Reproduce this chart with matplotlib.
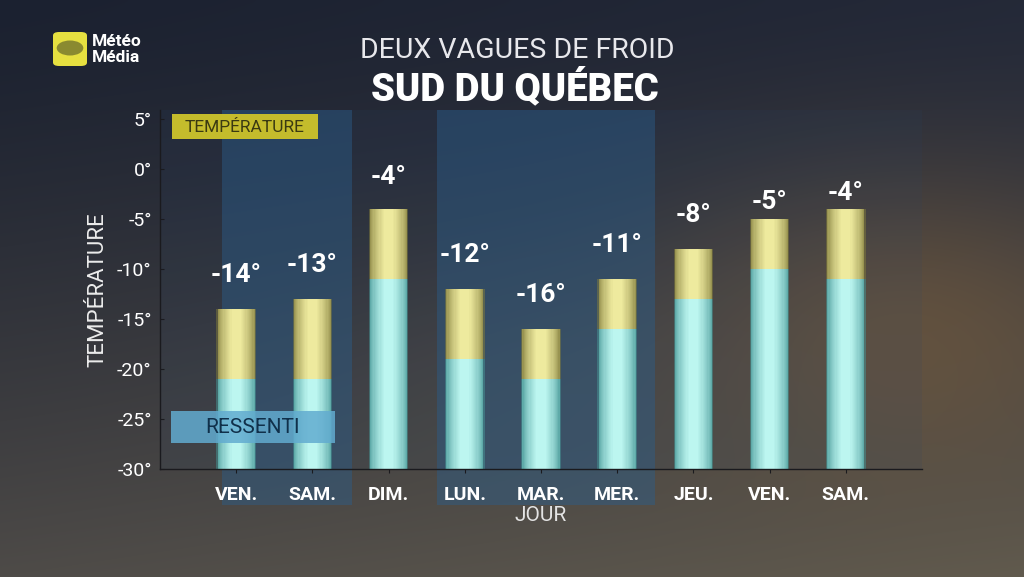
import numpy as np
import matplotlib
matplotlib.use("Agg")
import matplotlib.pyplot as plt
from matplotlib.patches import FancyBboxPatch, Rectangle, Circle

# ---------------- data ----------------
days = ["VEN.", "SAM.", "DIM.", "LUN.", "MAR.", "MER.", "JEU.", "VEN.", "SAM."]
temperature = [-14, -13, -4, -12, -16, -11, -8, -5, -4]
ressenti = [-21, -21, -11, -19, -21, -16, -13, -10, -11]
yticks = [-30, -25, -20, -15, -10, -5, 0, 5]
highlight_spans = [(-0.18, 1.52), (2.64, 5.50)]
label_offsets = [3.4, 3.4, 3.2, 3.4, 3.4, 3.4, 3.4, 1.7, 1.6]

FONT = "Roboto"

fig = plt.figure(figsize=(10.24, 5.77), dpi=100)

# ---------------- background ----------------
H, W = 577, 1024
yy, xx = np.mgrid[0:H, 0:W]
fy = yy / (H - 1)
fx = xx / (W - 1)
tl = np.array([27, 33, 48]); tr = np.array([36, 41, 56])
bl = np.array([78, 75, 72]); br = np.array([96, 90, 78])
top = tl[None, None, :] * (1 - fx[..., None]) + tr[None, None, :] * fx[..., None]
bot = bl[None, None, :] * (1 - fx[..., None]) + br[None, None, :] * fx[..., None]
w = fy[..., None] ** 1.3
img = top * (1 - w) + bot * w
g = np.exp(-(((xx - 900) / 230.0) ** 2 + ((yy - 330) / 150.0) ** 2))[..., None]
img = img * (1 - 0.55 * g) + np.array([125, 95, 60])[None, None, :] * 0.55 * g
g2 = np.exp(-(((xx - 560) / 260.0) ** 2 + ((yy - 380) / 120.0) ** 2))[..., None]
img = img * (1 - 0.25 * g2) + np.array([95, 85, 70])[None, None, :] * 0.25 * g2
img = np.clip(img / 255.0, 0, 1)
bg = fig.add_axes([0, 0, 1, 1], zorder=-10)
bg.imshow(img, aspect="auto", extent=[0, 1, 0, 1], origin="upper")
bg.set_axis_off()

# ---------------- main axes ----------------
ax = fig.add_axes([160 / 1024, 108 / 577, (922 - 160) / 1024, (469 - 110) / 577])
ax.set_facecolor((0.15, 0.28, 0.45, 0.10))
ax.set_xlim(-1, 9)
ax.set_ylim(-30, 5.9)

x = np.arange(len(days))

for a, b in highlight_spans:
    ax.axvspan(a, b, ymin=-0.10, ymax=1.0, color=(0.17, 0.37, 0.55), alpha=0.45,
               lw=0, zorder=0, clip_on=False)

# glowing stacked bars: many nested layers from edge colour to centre colour
base = -30
r_h = [r - base for r in ressenti]
t_h = [t - r for t, r in zip(temperature, ressenti)]
n_layers = 14
widths = np.linspace(0.52, 0.12, n_layers)
cy_edge, cy_mid = np.array([70, 150, 150]) / 255, np.array([188, 246, 240]) / 255
ye_edge, ye_mid = np.array([130, 125, 60]) / 255, np.array([238, 234, 158]) / 255
for k, wd in enumerate(widths):
    f = (k / (n_layers - 1)) ** 0.6
    al = 0.5 if k == 0 else 1.0
    ax.bar(x, r_h, width=wd, bottom=base, color=cy_edge * (1 - f) + cy_mid * f,
           alpha=al, lw=0, zorder=2)
    ax.bar(x, t_h, width=wd, bottom=ressenti, color=ye_edge * (1 - f) + ye_mid * f,
           alpha=al, lw=0, zorder=2)

# value labels
for xi, t, off in zip(x, temperature, label_offsets):
    ax.text(xi, t + off, f"{t}°", ha="center", va="center", color="white",
            fontsize=19, fontweight="bold", family=FONT, zorder=5)

for s in ["top", "right"]:
    ax.spines[s].set_visible(False)
for s in ["left", "bottom"]:
    ax.spines[s].set_color("#1a1a1e")
    ax.spines[s].set_linewidth(1.0)
ax.set_xticks(x)
ax.set_xticklabels(days, fontsize=14, fontweight="bold", color="white", family=FONT)
ax.set_yticks(yticks)
ax.set_yticklabels([f"{v}°" for v in yticks], fontsize=14, color="white", family=FONT)
ax.tick_params(axis="x", length=3, color="#1a1a1e", pad=9)
ax.tick_params(axis="y", length=3, color="#1a1a1e", pad=6, direction="in")
ax.set_xlabel("JOUR", fontsize=15, color="#e4e4e4", family=FONT, labelpad=2)
ax.set_ylabel("TEMPÉRATURE", fontsize=16, color="#ececec", family=FONT, labelpad=6)

# legend-like boxes
ax.add_patch(Rectangle((-0.85, -27.4), 2.15, 3.2, color="#62acd0", alpha=0.85, lw=0,
                       zorder=4))
ax.text(0.22, -25.8, "RESSENTI", ha="center", va="center", fontsize=15,
        color="#10304a", family=FONT, zorder=6)
fig.patches.append(Rectangle((172 / 1024, 1 - 139 / 577), 146 / 1024, 25 / 577,
                             transform=fig.transFigure, color="#c4bc2c", lw=0, zorder=4))
fig.text(245 / 1024, 1 - 127 / 577, "TEMPÉRATURE", ha="center", va="center",
         fontsize=12.5, color="#3a3a12", family=FONT, zorder=6)

# titles
fig.text(517 / 1024, 1 - 51 / 577, "DEUX VAGUES DE FROID", ha="center", va="center",
         fontsize=20.5, color="#e8e8ec", family=FONT, fontweight="normal")
fig.text(515 / 1024, 1 - 88 / 577, "SUD DU QUÉBEC", ha="center", va="center",
         fontsize=27.5, color="white", family=FONT, fontweight="black")

# logo
fig.patches.append(FancyBboxPatch((53 / 1024, 1 - 66 / 577), 34 / 1024, 34 / 577,
                                  boxstyle="round,pad=0,rounding_size=0.006",
                                  transform=fig.transFigure, color="#e6e040", lw=0))
fig.patches.append(Circle((70 / 1024, 1 - 48 / 577), 0.013, transform=fig.transFigure,
                          color="#8a8a30", lw=0))
fig.text(92 / 1024, 1 - 41 / 577, "Météo", ha="left", va="center", fontsize=12.5,
         fontweight="bold", color="white", family=FONT)
fig.text(92 / 1024, 1 - 58 / 577, "Média", ha="left", va="center", fontsize=12.5,
         fontweight="bold", color="white", family=FONT)

fig.savefig("out.png", dpi=100)
